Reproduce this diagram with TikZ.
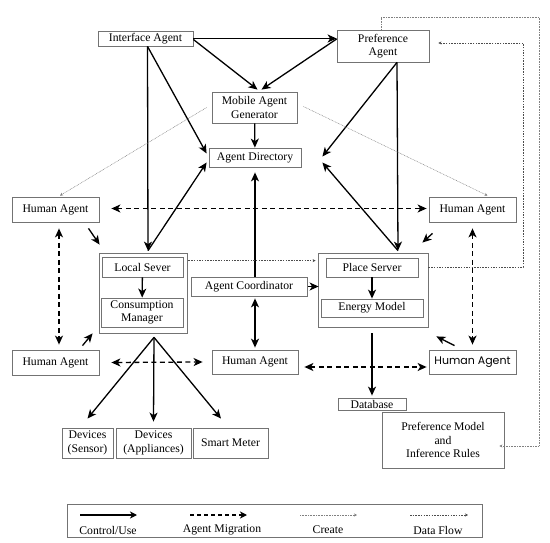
\documentclass[tikz,border=0pt]{standalone}
\usepackage{fontspec}
\setmainfont{Liberation Serif}
\newfontfamily\hafont{Poppins}
\usetikzlibrary{arrows.meta}

\begin{document}
\begin{tikzpicture}[
      x=1pt, y=-1pt,
      box/.style={rectangle, draw=black!55, line width=0.8pt, inner sep=0pt, align=center,
                  font=\fontsize{11.7}{13.5}\selectfont},
      label/.style={inner sep=0pt, font=\fontsize{11.7}{13.5}\selectfont},
      ctrl/.style={line width=1.3pt, -{Stealth[length=9pt,width=8pt,inset=2.5pt]}},
      ctrlboth/.style={line width=1.3pt, {Stealth[length=9pt,width=8pt,inset=2.5pt]}-{Stealth[length=9pt,width=8pt,inset=2.5pt]}},
      migr/.style={line width=1.3pt, dash pattern=on 5pt off 3.5pt,
                   {Stealth[length=9pt,width=8pt,inset=2.5pt]}-{Stealth[length=9pt,width=8pt,inset=2.5pt]}},
      create/.style={black!50, line width=0.5pt, dash pattern=on 0.8pt off 0.8pt, -{Stealth[length=3pt,width=3pt]}},
      dflow/.style={black!70, line width=0.6pt, dash pattern=on 1.5pt off 1.2pt, -{Stealth[length=3pt,width=3pt]}}
    ]
      \useasboundingbox (0,0) rectangle (550,543);

      % top agents
      \node[box, minimum width=95pt, minimum height=15pt] (ia) at (145.5,38.5) {Interface Agent};
      \node[box, minimum width=92pt, minimum height=32pt] (pa) at (383,46) {Preference\\Agent};
      \node[box, minimum width=85pt, minimum height=31pt] (mag) at (254.5,107.5) {Mobile Agent\\Generator};
      \node[box, minimum width=92pt, minimum height=19pt] (ad) at (255,157.5) {Agent Directory};

      % human agents
      \node[box, minimum width=87pt, minimum height=25pt] (hatl) at (55.5,209.5) {Human Agent};
      \node[box, minimum width=87pt, minimum height=25pt] (hatr) at (472.5,209.5) {Human Agent};
      \node[box, minimum width=87pt, minimum height=25pt] (habl) at (55.5,362.5) {Human Agent};
      \node[box, minimum width=86pt, minimum height=24pt] (ham) at (255,362) {Human Agent};
      \node[box, minimum width=87pt, minimum height=24pt, font=\hafont\fontsize{11}{13}\selectfont] (habr) at (472.5,362) {Human Agent};

      % local server group
      \node[box, minimum width=88pt, minimum height=80pt] (ls) at (143,293) {};
      \node[box, minimum width=81pt, minimum height=20pt] (lsin) at (142.5,267) {Local Sever};
      \node[box, minimum width=82pt, minimum height=29pt] (cm) at (142,312.5) {Consumption\\Manager};
      \draw[ctrl] (lsin) -- (cm);

      \node[box, minimum width=116pt, minimum height=19pt] (ac) at (249,286.5) {Agent Coordinator};

      % place server group
      \node[box, minimum width=110pt, minimum height=74pt] (ps) at (373,290) {};
      \node[box, minimum width=92pt, minimum height=19pt] (psin) at (372,267.5) {Place Server};
      \node[box, minimum width=102pt, minimum height=18pt] (em) at (372,308) {Energy Model};
      \draw[ctrl] (psin) -- (em);

      % lower boxes
      \node[box, minimum width=68pt, minimum height=12pt] (db) at (372,404) {Database};
      \node[box, minimum width=122pt, minimum height=56pt] (pm) at (443,440) {Preference Model\\and\\Inference Rules};
      \node[box, minimum width=51pt, minimum height=30pt] (dsen) at (87.5,443) {Devices\\(Sensor)};
      \node[box, minimum width=75pt, minimum height=30pt] (dapp) at (153.5,443) {Devices\\(Appliances)};
      \node[box, minimum width=75pt, minimum height=30pt] (sm) at (230.5,443) {Smart Meter};

      % control / use
      \draw[ctrl] (ia.east) -- (pa.west |- ia.east);
      \draw[ctrl] ([yshift=-1pt]ia.east) -- ([xshift=3pt,yshift=2pt]mag.north);
      \draw[ctrl] ([yshift=7pt]pa.west) -- ([xshift=7pt,yshift=2pt]mag.north);
      \draw[ctrl] ([xshift=2pt]ia.south) -- ([xshift=-2pt,yshift=4pt]ad.west);
      \draw[ctrl] ([xshift=2pt]ia.south) -- ([xshift=5pt,yshift=2pt]ls.north);
      \draw[ctrl] ([xshift=5pt,yshift=2pt]ls.north) -- ([xshift=-2pt,yshift=-5pt]ad.west);
      \draw[ctrl] (mag) -- (ad);
      \draw[ctrl] ([xshift=14pt]pa.south) -- ([xshift=21pt,yshift=1pt]ad.east);
      \draw[ctrl] ([xshift=14pt]pa.south) -- ([xshift=25pt,yshift=2pt]ps.north);
      \draw[ctrl] ([xshift=25pt,yshift=2pt]ps.north) -- ([xshift=21pt,yshift=-5pt]ad.east);
      \draw[ctrl] (ac.north -| ad) -- ([yshift=-5pt]ad.south);
      \draw[ctrl] ([xshift=1pt]ac.east) -- ([xshift=1pt]ps.west |- ac.east);
      \draw[ctrlboth] ([yshift=-2pt]ac.south -| ad) -- ([yshift=2pt]ham.north);
      \draw[ctrl] ([xshift=33pt,yshift=-6pt]hatl.south) -- ([xshift=1pt,yshift=8pt]ls.north west);
      \draw[ctrl] ([xshift=27pt,yshift=4pt]habl.north) -- ([xshift=-6pt]ls.south west);
      \draw[ctrl] ([xshift=-40pt,yshift=-11pt]hatr.south) -- ([xshift=-6pt,yshift=10pt]ps.north east);
      \draw[ctrl] ([xshift=-18pt,yshift=4pt]habr.north) -- ([xshift=8pt,yshift=-9pt]ps.south east);
      \draw[ctrl] ([yshift=-6pt]ps.south -| db) -- ([yshift=2pt]db.north);
      \coordinate (fan) at ([xshift=11pt,yshift=-4pt]ls.south);
      \draw[ctrl] (fan) -- ([yshift=9pt]dsen.north);
      \draw[ctrl] (fan) -- ([yshift=6pt]dapp.north);
      \draw[ctrl] (fan) -- ([xshift=-9.5pt,yshift=9pt]sm.north);

      % agent migration
      \draw[migr] ([xshift=12pt,yshift=1pt]hatl.east) -- ([xshift=-2pt,yshift=1pt]hatr.west);
      \draw[migr] ([xshift=3.5pt,yshift=-6pt]hatl.south) -- ([xshift=3.5pt,yshift=5pt]habl.north);
      \draw[migr] ([yshift=-6pt]hatr.south) -- ([yshift=5pt]habr.north);
      \draw[migr] ([xshift=12pt]habl.east) -- ([xshift=-9pt]ham.west);
      \draw[migr] ([xshift=6pt,yshift=-5pt]ham.east) -- ([xshift=-2pt,yshift=-5pt]habr.west);

      % create
      \draw[create] ([xshift=-5pt]mag.west) -- ([xshift=4.5pt,yshift=1pt]hatl.north);
      \draw[create] ([xshift=6pt,yshift=1pt]mag.east) -- ([xshift=15pt,yshift=1pt]hatr.north);

      % data flow
      \draw[dflow] ([xshift=1pt,yshift=-8pt]ls.north east) -- ([xshift=-2pt,yshift=-8pt]ps.north west);
      \coordinate (dfc) at (523,43);
      \draw[dflow] ([yshift=23pt]ps.east) -| (dfc) -- ([xshift=9pt,yshift=3pt]pa.east);
      \coordinate (crt) at (539,17);
      \draw[create] ([xshift=-2pt]pa.north) |- (crt) |- ([xshift=-5pt,yshift=-6pt]pm.east);

      % legend
      \node[box, minimum width=415pt, minimum height=33pt] (legend) at (274.5,520.5) {};
      \draw[line width=1.3pt, -{Stealth[length=7pt,width=7pt,inset=2pt]}] (80,515) -- (137,515);
      \node[label] (lctrl) at (108,530) {Control/Use};
      \draw[line width=1.3pt, dash pattern=on 4pt off 3pt, -{Stealth[length=7pt,width=7pt,inset=2pt]}] (190,515) -- (247,515);
      \node[label] (lmigr) at (222,530) {Agent Migration};
      \draw[create] (300,515) -- (357,515);
      \node[label] (lcreate) at (328,530) {Create};
      \draw[dflow] (410,515) -- (468,515);
      \node[label] (ldflow) at (438,530) {Data Flow};
    \end{tikzpicture}
\end{document}
